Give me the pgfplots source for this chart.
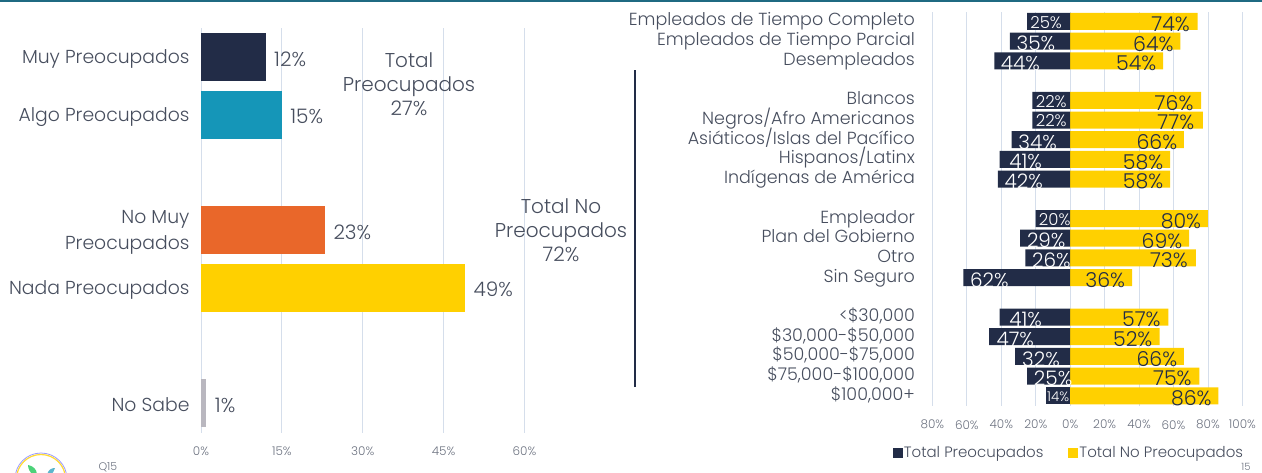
\documentclass[border=0pt]{standalone}
\usepackage{pgfplots}
\pgfplotsset{compat=1.18}
\usepackage{pgfplotstable}
\usepackage{fontspec}
\setmainfont{Poppins}[UprightFont=* Light]
\pgfplotsset{/pgf/number format/assume math mode=true}
\definecolor{navy}{HTML}{222C47}
\definecolor{teal1}{HTML}{1596B8}
\definecolor{orange1}{HTML}{E9672A}
\definecolor{yellow1}{HTML}{FFD000}
\definecolor{gray1}{HTML}{B9B7BF}
\definecolor{gridc}{HTML}{D5DEEB}
\definecolor{txt}{HTML}{474E5E}
\definecolor{tick}{HTML}{6C7280}
\definecolor{rule}{HTML}{1F6A82}
\pgfplotstableread{
y x
0 12
}\tA
\pgfplotstableread{
y x
1 15
}\tB
\pgfplotstableread{
y x
3 23
}\tC
\pgfplotstableread{
y x
4 49
}\tD
\pgfplotstableread{
y x
6 1
}\tE
\pgfplotstableread{
y x
1 -35
2 -44
6 -34
7 -41
8 -42
11 -29
12 -26
13 -62
15 -41
16 -47
17 -32
18 -25
}\rNavyBig
\pgfplotstableread{
y x
0 -25
4 -22
5 -22
10 -20
}\rNavySmall
\pgfplotstableread{
y x
19 -14
}\rNavyTiny
\pgfplotstableread{
y x
0 74
1 64
2 54
4 76
5 77
6 66
7 58
8 58
10 80
11 69
12 73
13 36
15 57
16 52
17 66
18 75
19 86
}\rYellow
\begin{document}
\begin{tikzpicture}[x=1pt,y=1pt]
\path[use as bounding box] (0,0) rectangle (1262,472);
\fill[rule] (0,470) rectangle (1262,472);
\begin{scope}
\clip (0,0) rectangle (100,40);
\draw[blue!40!white, line width=0.8pt] (41,-7) circle (26);
\draw[yellow1!80!white, line width=1.2pt] (41,-7) circle (24.5);
\fill[green!50!teal!70!white] (28,7) .. controls (33,6) and (37,3) .. (37,-3) -- (33,-3) .. controls (30,0) and (28,3) .. (28,7);
\fill[teal1!70!white] (55,4) .. controls (51,4) and (48,2) .. (47,-3) -- (51,-3) .. controls (53,-1) and (54,1) .. (55,4);
\end{scope}
% left panel
\begin{axis}[
  at={(201pt,39pt)}, anchor=south west, scale only axis,
  width=323.5pt, height=405pt,
  xmin=0, xmax=60, ymin=-0.503, ymax=6.52, y dir=reverse,
  axis line style={draw=none},
  xmajorgrids, grid style={gridc, line width=0.8pt},
  xtick={0,15,30,45,60}, xticklabels={0\%,15\%,30\%,45\%,60\%},
  ytick={0,1,3,4,6},
  yticklabels={Muy Preocupados,Algo Preocupados,{No Muy\\Preocupados},Nada Preocupados,No Sabe},
  major tick length=0pt,
  xticklabel style={font=\fontsize{12}{13}\selectfont, text=tick, yshift=-10pt},
  yticklabel style={font=\fontsize{18.8}{26}\selectfont, text=txt, align=right, xshift=-8pt, yshift=-2pt},
  xbar, bar width=48pt, bar shift=0pt,
  nodes near coords={\pgfmathprintnumber{\pgfplotspointmeta}\%},
  every node near coord/.append style={font=\fontsize{20}{22}\selectfont, text=txt, yshift=-2pt, xshift=5pt},
  clip=false,
]
\addplot[fill=navy, draw=none] table[x=x,y=y] {\tA};
\addplot[fill=teal1, draw=none] table[x=x,y=y] {\tB};
\addplot[fill=orange1, draw=none] table[x=x,y=y] {\tC};
\addplot[fill=yellow1, draw=none] table[x=x,y=y] {\tD};
\addplot[fill=gray1, draw=none] table[x=x,y=y] {\tE};
\end{axis}
\node[font=\fontsize{20}{24}\selectfont, text=txt, align=center] at (409,388) {Total\\Preocupados\\27\%};
\node[font=\fontsize{20}{24}\selectfont, text=txt, align=center] at (561,242) {Total No\\Preocupados\\72\%};
\draw[navy, line width=2pt] (634.5,85) -- (634.5,402);
% right panel
\begin{axis}[
  at={(932.4pt,66.3pt)}, anchor=south west, scale only axis,
  width=310pt, height=393.7pt,
  xmin=-80, xmax=100, ymin=-0.482, ymax=19.5, y dir=reverse,
  axis line style={draw=none},
  xmajorgrids, grid style={gridc, line width=0.8pt},
  xtick={-80,-60,-40,-20,0,20,40,60,80,100},
  xticklabels={80\%,60\%,40\%,20\%,0\%,20\%,40\%,60\%,80\%,100\%},
  ytick={0,1,2,4,5,6,7,8,10,11,12,13,15,16,17,18,19},
  yticklabels={Empleados de Tiempo Completo,Empleados de Tiempo Parcial,Desempleados,Blancos,Negros/Afro Americanos,Asiáticos/Islas del Pacífico,Hispanos/Latinx,Indígenas de América,Empleador,Plan del Gobierno,Otro,Sin Seguro,{<\$30,000},{\$30,000-\$50,000},{\$50,000-\$75,000},{\$75,000-\$100,000},{\$100,000+}},
  major tick length=0pt,
  xticklabel style={font=\fontsize{12}{13}\selectfont, text=tick, yshift=-11pt},
  yticklabel style={font=\fontsize{17.5}{19}\selectfont, text=txt, xshift=-14pt, text height=13pt, text depth=4pt},
  bar width=17pt, bar shift=0pt,
  clip=false,
  legend style={at={(-0.138,-0.1195)}, anchor=west, draw=none, fill=none, font=\fontsize{15}{17}\selectfont, text=txt, legend columns=2, /tikz/every even column/.append style={column sep=23pt}},
  legend cell align=left,
]
\addplot[xbar, fill=yellow1, draw=none, forget plot,
  nodes near coords={\pgfmathprintnumber{\pgfplotspointmeta}\%},
  every node near coord/.append style={font=\fontsize{20.5}{22}\selectfont, text=navy, anchor=center, xshift=-27pt, yshift=-2.5pt}]
  table[x=x,y=y] {\rYellow};
\addplot[xbar, fill=navy, draw=none, forget plot,
  point meta={-x},
  nodes near coords={\pgfmathprintnumber{\pgfplotspointmeta}\%},
  every node near coord/.append style={font=\fontsize{20}{22}\selectfont, text=white, anchor=center, xshift=26pt, yshift=-2.5pt}]
  table[x=x,y=y] {\rNavyBig};
\addplot[xbar, fill=navy, draw=none, forget plot,
  point meta={-x},
  nodes near coords={\pgfmathprintnumber{\pgfplotspointmeta}\%},
  every node near coord/.append style={font=\fontsize{16.5}{18}\selectfont, text=white, anchor=center, xshift=19pt, yshift=-1pt}]
  table[x=x,y=y] {\rNavySmall};
\addplot[xbar, fill=navy, draw=none, forget plot,
  point meta={-x},
  nodes near coords={\pgfmathprintnumber{\pgfplotspointmeta}\%},
  every node near coord/.append style={font=\fontsize{13.5}{15}\selectfont, text=white, anchor=center, xshift=12pt, yshift=-1pt}]
  table[x=x,y=y] {\rNavyTiny};
\addlegendimage{only marks, mark=square*, mark size=4.5pt, mark options={fill=navy, draw=navy}}
\addlegendentry{Total Preocupados}
\addlegendimage{only marks, mark=square*, mark size=4.5pt, mark options={fill=yellow1, draw=yellow1}}
\addlegendentry{Total No Preocupados}
\end{axis}
\node[font=\fontsize{11}{13}\selectfont, text=tick, anchor=west] at (95,5) {Q15};
\node[font=\fontsize{10}{12}\selectfont, text=tick, anchor=east] at (1254,5) {15};
\end{tikzpicture}
\end{document}
